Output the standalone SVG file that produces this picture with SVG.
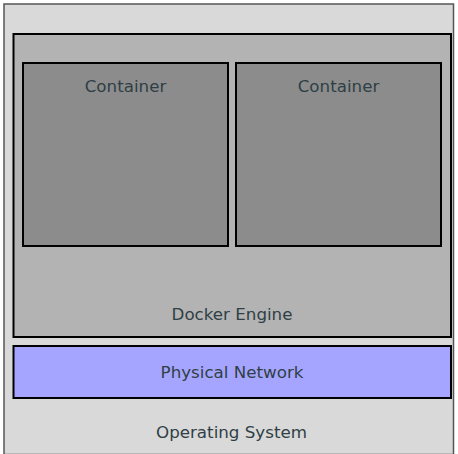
<svg xmlns="http://www.w3.org/2000/svg" width="458" height="454" viewBox="0 0 458 454">
<style>
.lbl{font-family:"DejaVu Sans",sans-serif;font-size:16.7px;fill:#2f3f45;text-anchor:middle}
.box{stroke:#000;stroke-width:2}
</style>
<rect width="458" height="454" fill="#ffffff"/>
<g id="os">
<rect x="4" y="4" width="449.5" height="450.5" fill="#d9d9d9" stroke="#555" stroke-width="1.5"/>
<text class="lbl" x="231.5" y="437.5">Operating System</text>
</g>
<g id="engine">
<rect class="box" x="13.5" y="34" width="437.5" height="303" fill="#b3b3b3"/>
<text class="lbl" x="232" y="319.5">Docker Engine</text>
</g>
<g id="container1">
<rect class="box" x="23" y="63" width="205" height="183" fill="#8c8c8c"/>
<text class="lbl" x="125.5" y="92">Container</text>
</g>
<g id="container2">
<rect class="box" x="236" y="63" width="205" height="183" fill="#8c8c8c"/>
<text class="lbl" x="338.5" y="92">Container</text>
</g>
<g id="network">
<rect class="box" x="13.5" y="346" width="437.5" height="52" fill="#a5a5ff"/>
<text class="lbl" x="232" y="378">Physical Network</text>
</g>
<g id="connectors"></g>
</svg>
